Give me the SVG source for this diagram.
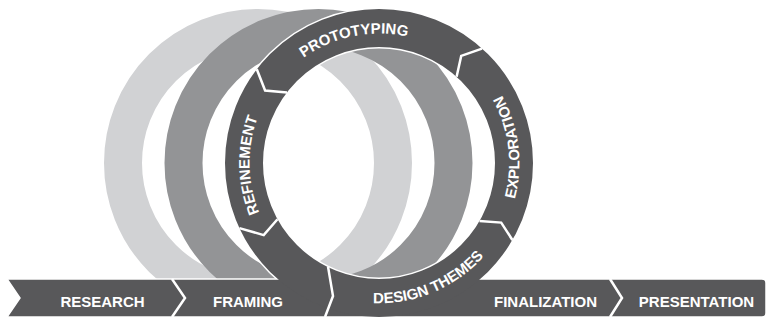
<svg xmlns="http://www.w3.org/2000/svg" width="768" height="320" viewBox="0 0 768 320">
  <style>
    .ring { fill: none; stroke-width: 38; }
    .light { stroke: #d1d2d4; }
    .mid { stroke: #939496; }
    .dark { stroke: #58585a; }
    .halo { fill: none; stroke: #ffffff; stroke-width: 41; }
    .sep { fill: none; stroke: #ffffff; stroke-width: 2.5; stroke-linejoin: miter; }
    .lbl { font-family: "Liberation Sans", Arial, sans-serif; font-weight: bold; font-size: 15px; fill: #ffffff; }
  </style>
  <defs>
    <!-- baselines for the curved labels, all around the loop centre (379,163) -->
    <path id="arc-prototyping" d="M256.2,121.9 A129.6,129.6 0 0 1 476.0,77.2"/>
    <path id="arc-refinement" d="M316.2,276.3 A129.6,129.6 0 0 1 312.3,51.9"/>
    <path id="arc-exploration" d="M463.5,275.1 A140.4,140.4 0 0 0 433.9,33.8"/>
    <path id="arc-design" d="M294.5,275.1 A140.4,140.4 0 0 0 518.3,180.1"/>
  </defs>

  <!-- fading echoes of the loop -->
  <g id="echoes">
    <circle class="ring light" cx="258" cy="163" r="135"/>
    <circle class="ring mid" cx="318.5" cy="163" r="135"/>
  </g>

  <!-- main track: straight bar plus the loop -->
  <g id="track">
    <circle class="halo" cx="379" cy="163" r="135"/>
    <path d="M7,279 H762 Q766,279 766,283 V313 Q766,317 762,317 H7 L20,298 Z" fill="#58585a" stroke="#ffffff" stroke-width="1.5"/>
    <circle class="ring dark" cx="379" cy="163" r="135"/>
  </g>

  <!-- chevron joints between stages -->
  <g id="connectors">
    <path class="sep" d="M172,279 L185,298 L172,317"/>
    <path class="sep" d="M328,266.5 L333,296 L325,317"/>
    <path class="sep" d="M610,279 L622,298 L610,317"/>
    <path class="sep" d="M239.4,228.1 L263.7,235.1 L277.5,219.2"/>
    <path class="sep" d="M256.8,69.2 L265.1,90.5 L287.0,92.4"/>
    <path class="sep" d="M482.0,48.6 L461.2,55.9 L456.6,76.8"/>
    <path class="sep" d="M512.4,240 L501.2,222.6 L479.5,221"/>
  </g>

  <g id="research">
    <text class="lbl" x="102.5" y="306.5" text-anchor="middle">RESEARCH</text>
  </g>
  <g id="framing">
    <text class="lbl" x="248" y="306.5" text-anchor="middle">FRAMING</text>
  </g>
  <g id="refinement">
    <text class="lbl" text-anchor="middle"><textPath href="#arc-refinement" startOffset="50%">REFINEMENT</textPath></text>
  </g>
  <g id="prototyping">
    <text class="lbl" text-anchor="middle"><textPath href="#arc-prototyping" startOffset="50%">PROTOTYPING</textPath></text>
  </g>
  <g id="exploration">
    <text class="lbl" text-anchor="middle"><textPath href="#arc-exploration" startOffset="50%">EXPLORATION</textPath></text>
  </g>
  <g id="design-themes">
    <text class="lbl" text-anchor="middle"><textPath href="#arc-design" startOffset="50%">DESIGN THEMES</textPath></text>
  </g>
  <g id="finalization">
    <text class="lbl" x="545.5" y="306.5" text-anchor="middle">FINALIZATION</text>
  </g>
  <g id="presentation">
    <text class="lbl" x="696.5" y="306.5" text-anchor="middle">PRESENTATION</text>
  </g>
</svg>
